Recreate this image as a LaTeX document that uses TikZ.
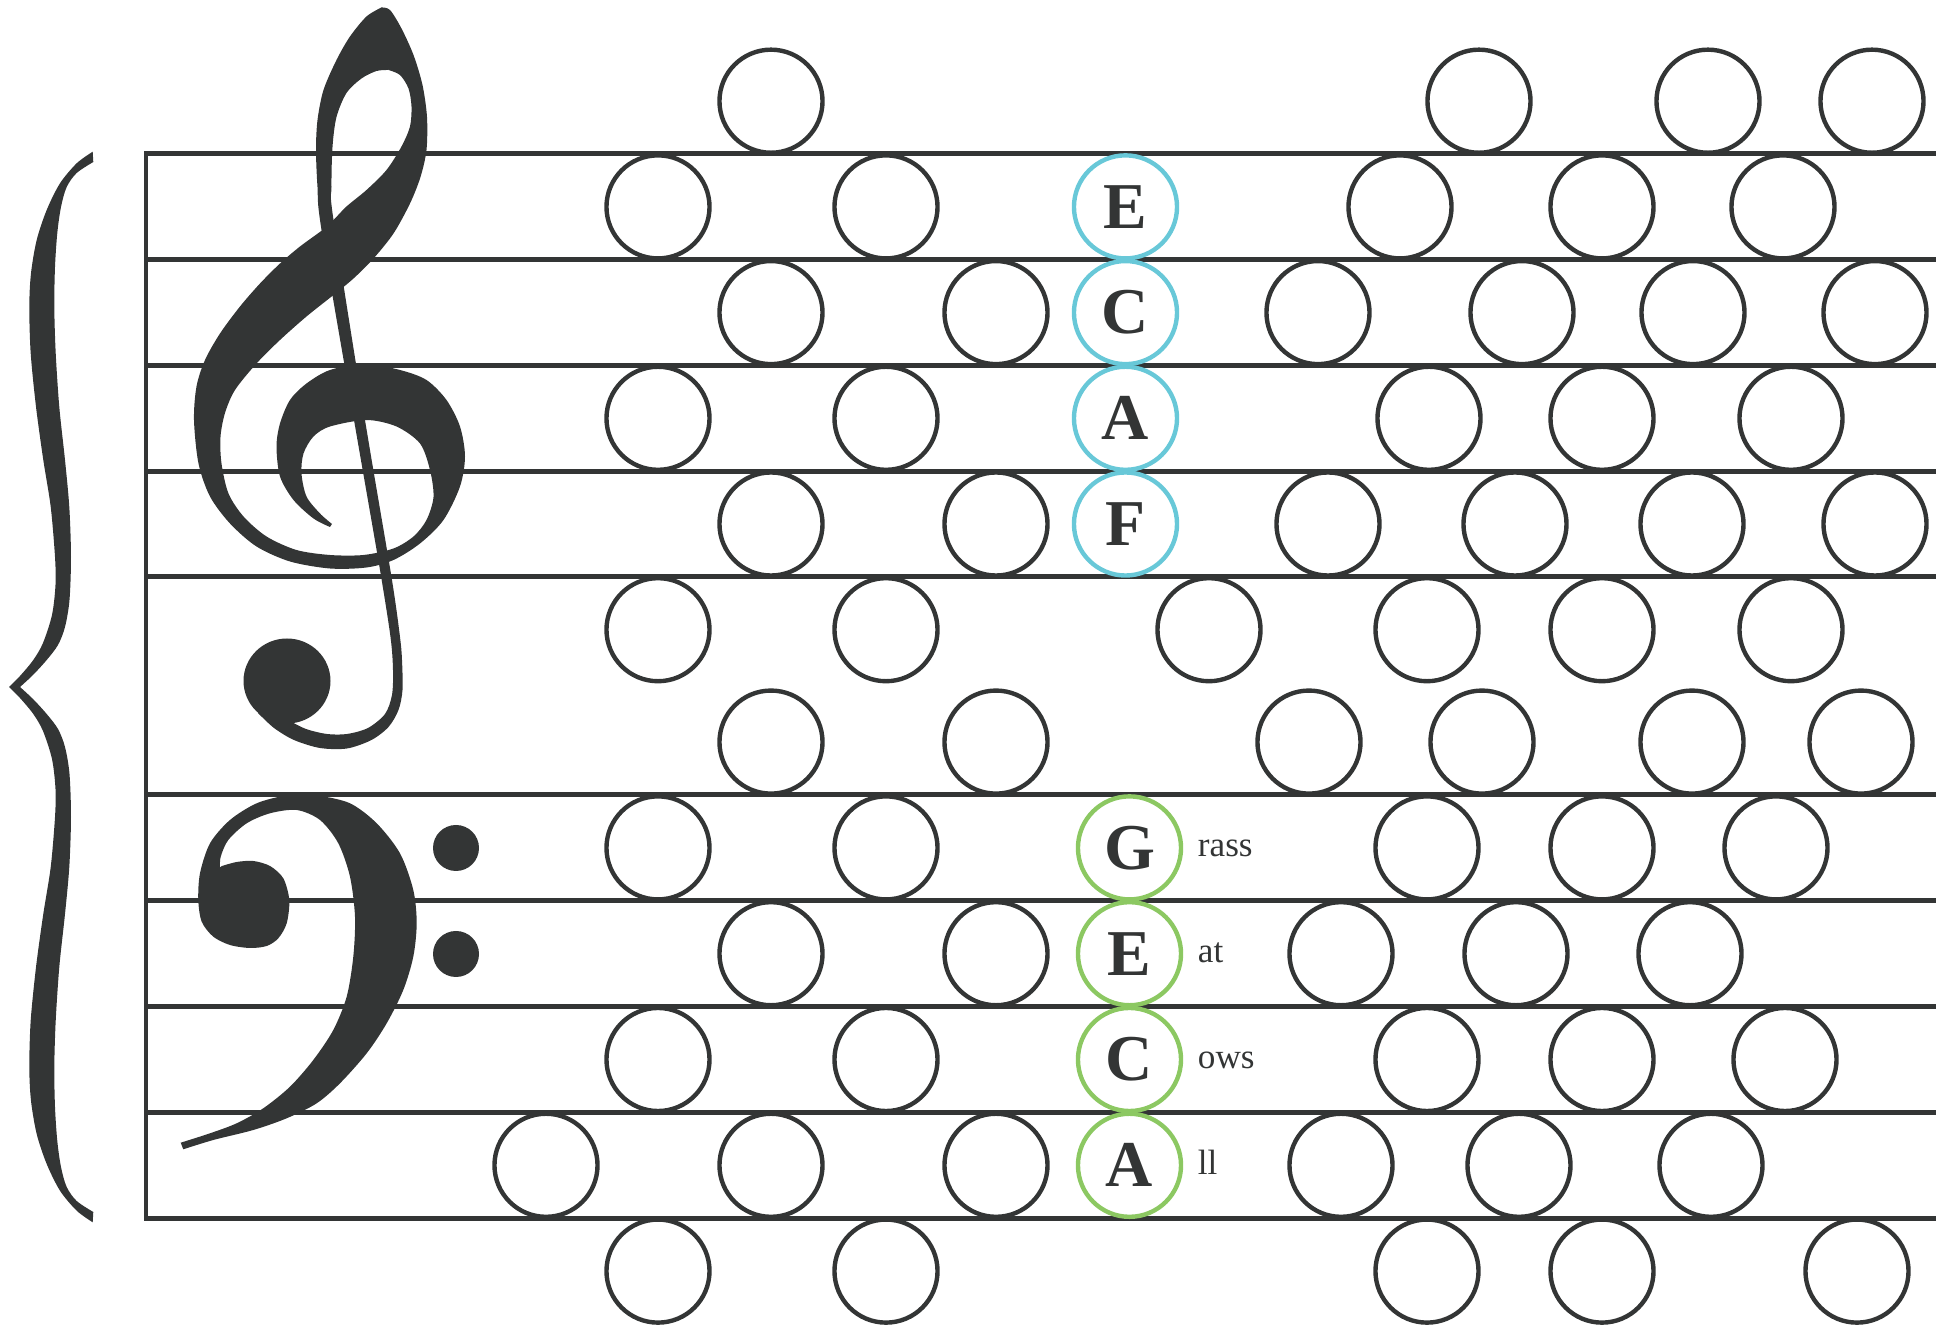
\documentclass[tikz,border=0pt]{standalone}
\usepackage{fontspec}
\setmainfont{Liberation Serif}
\usetikzlibrary{positioning}
\definecolor{ink}{HTML}{333535}
\definecolor{trebleblue}{HTML}{68C8D8}
\definecolor{bassgreen}{HTML}{8CC862}
\newcommand{\bracehalf}{%
  \fill[ink] plot[smooth] coordinates {(92.7,151.7) (76.7,163.3) (60,183.3) (46.7,210) (36.7,240) (31,273.3) (29.3,306.7) (30.7,353.3) (36,406.7) (43.3,460) (50.7,506.7) (55,556.7) (55.5,585) (52,615) (43,643) (33.3,660) (20,676) (9,687)}
    -- plot[smooth] coordinates {(20,687) (33,675) (46.7,660) (58,645) (65,627) (69.5,600) (71,557) (69.3,507) (65,460) (59.3,407) (55.7,353) (54.3,307) (55,267) (57.3,233) (61,207) (66.7,187) (76.7,173) (93.3,162)} -- cycle;}
\tikzset{
  staffline/.style={draw=ink, line width=1.42pt, line cap=rect},
  spacenote/.style={circle, draw=ink, line width=1.25pt, minimum size=1.03cm, inner sep=0pt},
  trebleletter/.style={spacenote, draw=trebleblue, text=ink, font=\fontsize{18.6pt}{20pt}\selectfont\bfseries},
  bassletter/.style={spacenote, draw=bassgreen, text=ink, font=\fontsize{18.6pt}{20pt}\selectfont\bfseries},
  mnemonic/.style={inner sep=0pt, text=ink, font=\fontsize{10pt}{12pt}\selectfont, anchor=base west, yshift=-0.09cm}
}

\begin{document}
\begin{tikzpicture}[x=0.01cm, y=-0.01cm]
    \useasboundingbox (0,0) rectangle (1944,1328);

    % staff
    \foreach \y in {154,259.7,365.4,471.1,576.8,795,900.8,1006.6,1112.4,1218.2}
        \draw[staffline] (146,\y) -- (1933,\y);
    \draw[staffline] (146,154) -- (146,1218.2);

    % brace
    \bracehalf
    \begin{scope}[shift={(0,1374)}, yscale=-1]
        \bracehalf
    \end{scope}

    % treble clef
    \fill[ink] plot[smooth] coordinates {(381.5,7.5) (366.5,16.5) (350,36.5) (336.5,60) (323.5,90) (317.5,120) (316,150) (317.5,187) (321.5,230) (354,420) (379.5,567) (390.5,637) (393,670) (392,695) (385,714) (368,728) (347,734) (327,734) (306,729) (288,720)}
        -- plot[smooth] coordinates {(258,713) (274,728) (294,740) (320,748) (347,748.5) (371.5,740) (388.5,727) (398.5,710) (402.5,690) (402,660) (400,637) (391.5,577) (365,420) (333.5,220) (331.5,187) (332.5,147) (336.5,117) (346.5,93) (361.5,78.5) (376.5,71) (388.5,70)} -- (395,35) -- cycle;
    \fill[ink] plot[smooth] coordinates {(381.5,7.5) (390,10) (401.5,28.5) (413.5,55) (422.5,85) (427,117) (426.5,150) (420.5,177) (410,203.5) (393.5,233.5) (373.5,258.5) (353.5,278.5) (333.5,295) (306.5,316.5) (280,340) (256.5,363.5) (235,390) (225,413) (220.5,437) (221.5,463.5) (228.5,493.5) (243.5,516.5) (266.5,536.5) (296.5,550) (330,555) (363.5,555) (393.5,548.5) (413.5,536.5) (426.5,520) (433.5,497) (430,470) (420,443.5) (396.5,426.5) (366.5,420) (330,426.5) (313.5,436.5) (303.5,453.5) (301.5,473.5) (306.5,496.5) (320,513.5) (332,524)}
        -- plot[smooth] coordinates {(330,527) (313.5,518.5) (293.5,500) (280,476.5) (276.5,446.5) (280,423.5) (290,400) (306.5,383.5) (330,370) (365,364) (400,370) (426.5,380) (446.5,400) (460,426.5) (465,456.5) (460,486.5) (443.5,520) (420,543.5) (393.5,560) (366.5,567.5) (330,568.5) (290,561.5) (256.5,546.5) (230,523.5) (210,496.5) (198.5,463.5) (194,420) (196.5,386.5) (205,360) (220,333.5) (240,306.5) (260,283.5) (280,263.5) (300,246.5) (322.5,230) (333.5,220) (346.5,206.5) (366.5,190) (386.5,170) (401.5,146.5) (410,126.5) (411.5,106.5) (408.5,88.5) (400,75) (388.5,70)} -- (372,35) -- cycle;
    \fill[ink] (287,681) ellipse [x radius=43.5, y radius=42.5];

    % bass clef
    \fill[ink] plot[smooth] coordinates {(222,866) (236.7,862) (253.3,861) (270,866) (283.3,878.3) (289.3,900) (286.7,923.3) (278.3,938.3) (266.7,946) (250,948) (230,945) (213.3,936.7) (201.7,921.7) (198.3,900) (200,873.3) (210,843.3) (230,820) (256.7,803.3) (286.7,795.5) (316.7,795.5) (350,803.3) (376.7,823.3) (400,853.3) (413.3,890) (416.7,923.3) (413.3,956.7) (403.3,990) (386.7,1023.3) (366.7,1053.3) (340,1083.3) (316.7,1103.3) (286.7,1118.3) (253.3,1130) (213.3,1140) (183.3,1149.3)}
        -- plot[smooth] coordinates {(180.7,1142.7) (210,1133.3) (236.7,1123.3) (263.3,1108.3) (290,1086.7) (313.3,1060) (333.3,1030) (346.7,996.7) (353.3,956.7) (355,916.7) (350,876.7) (338.3,843.3) (320,820) (296.7,810) (270,813.3) (246.7,823.3) (228.3,840) (220.7,856.7) (220,867.3)} -- cycle;
    \fill[ink] (456,848) circle [radius=23];
    \fill[ink] (456,954) circle [radius=23];

    % notes in the spaces
    \foreach \row/\y/\xs in {g5/101.2/{771,1479,1708,1872}, e5/206.9/{658,886,1400,1602,1783},
            c5/312.6/{771,996,1318,1522,1693,1875}, a4/418.3/{658,886,1429,1602,1791},
            f4/524/{771,996,1328,1515,1692,1875}, d4/629.7/{658,886,1209,1427,1602,1791},
            b3/742.1/{771,996,1309,1482,1692,1861}, g3/847.9/{658,886,1427,1602,1776},
            e3/953.7/{771,996,1341,1516,1690}, c3/1059.5/{658,886,1427,1602,1785},
            a2/1165.3/{546,771,996,1341,1519,1711}, f2/1271.1/{658,886,1427,1602,1857}}
        \foreach \x [count=\i] in \xs
            \node[spacenote] (\row-\i) at (\x,\y) {};

    % treble spaces: FACE
    \node[trebleletter] (tE) at (1125.5,206.9) {E};
    \node[trebleletter] (tC) at (1125.5,312.6) {C};
    \node[trebleletter] (tA) at (1125.5,418.3) {A};
    \node[trebleletter] (tF) at (1125.5,524) {F};

    % bass spaces: Grass Eat Cows All
    \node[bassletter] (bG) at (1129.5,847.9) {G};
    \node[bassletter] (bE) at (1129.5,953.7) {E};
    \node[bassletter] (bC) at (1129.5,1059.5) {C};
    \node[bassletter] (bA) at (1129.5,1165.3) {A};
    \node[right=0.14cm of bG, mnemonic] (bGrass) {rass};
    \node[right=0.14cm of bE, mnemonic] (bEat) {at};
    \node[right=0.14cm of bC, mnemonic] (bCows) {ows};
    \node[right=0.14cm of bA, mnemonic] (bAll) {ll};
\end{tikzpicture}
\end{document}
